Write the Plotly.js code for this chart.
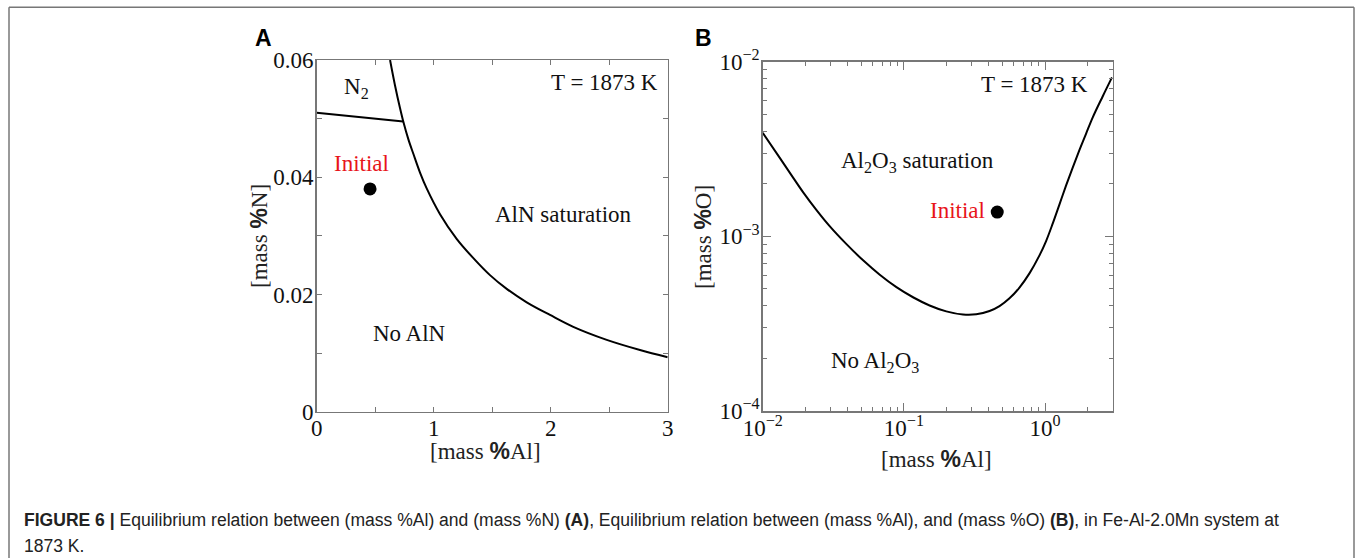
<!DOCTYPE html>
<html>
<head>
<meta charset="utf-8">
<script src="https://cdn.plot.ly/plotly-3.0.1.min.js"></script>
<style>html,body{margin:0;padding:0;background:#fff;}#chart{width:1357px;height:558px;}</style>
</head>
<body>
<div id="chart"></div>
<script>
// Panel A: AlN saturation boundary
const alnAl = [0.627, 0.669, 0.712, 0.74, 0.783, 0.826, 0.883, 0.94, 1.054, 1.196, 1.339, 1.481, 1.624, 1.795, 1.994, 2.193, 2.479, 2.763, 3.0];
const alnN  = [0.0600, 0.0557, 0.0518, 0.0495, 0.0465, 0.0440, 0.0408, 0.0381, 0.0337, 0.0295, 0.0262, 0.0233, 0.02095, 0.01866, 0.0165, 0.01448, 0.01226, 0.01053, 0.0093];
// Panel A: N2 boundary
const n2Al = [0, 0.74];
const n2N  = [0.0510, 0.0495];
// Panel A initial point
const initA = {al: [0.456], n: [0.038]};
// Panel B: Al2O3 saturation boundary
const oxAl = [0.01, 0.01325, 0.01646, 0.01936, 0.02406, 0.0299, 0.03921, 0.0514, 0.06745, 0.0885, 0.116, 0.152, 0.1995, 0.262, 0.3253, 0.404, 0.4753, 0.5595, 0.658, 0.7745, 0.912, 1.016, 1.133, 1.262, 1.406, 1.568, 1.746, 1.948, 2.17, 2.555, 2.975];
const oxO  = [0.00392, 0.002805, 0.002163, 0.001786, 0.001413, 0.00114, 0.000902, 0.000729, 0.000603, 0.000512, 0.000448, 0.000402, 0.000372, 0.000357, 0.000358, 0.000374, 0.000399, 0.000442, 0.000509, 0.000614, 0.000778, 0.00094, 0.001186, 0.00152, 0.00195, 0.002477, 0.003105, 0.003864, 0.004786, 0.006324, 0.00813];
// Panel B initial point
const initB = {al: [0.458], o: [0.001378]};

const ticksA_x = [0, 1, 2, 3];
const ticksA_y = [0, 0.02, 0.04, 0.06];
const ticksB_x = [0.01, 0.1, 1];
const ticksB_xText = ['10<sup>\u22122</sup>', '10<sup>\u22121</sup>', '10<sup>0</sup>'];
const ticksB_y = [0.0001, 0.001, 0.01];
const ticksB_yText = ['10<sup>\u22124</sup>', '10<sup>\u22123</sup>', '10<sup>\u22122</sup>'];

const W = 1357, H = 558;
const px = v => v / W, py = v => 1 - v / H;

const serif = 'Liberation Serif, Times New Roman, serif';
const sans = 'Liberation Sans, Arial, sans-serif';
const frame = '#777';

function minorLog(lo, hi) {
  const out = [];
  for (let e = lo; e < hi; e++) for (let m = 2; m <= 9; m++) out.push(m * Math.pow(10, e));
  return out;
}

const traces = [
  {x: alnAl, y: alnN, xaxis: 'x', yaxis: 'y', mode: 'lines', line: {color: '#000', width: 2, shape: 'spline', smoothing: 1}, hoverinfo: 'skip'},
  {x: n2Al, y: n2N, xaxis: 'x', yaxis: 'y', mode: 'lines', line: {color: '#000', width: 2}, hoverinfo: 'skip'},
  {x: initA.al, y: initA.n, xaxis: 'x', yaxis: 'y', mode: 'markers', marker: {color: '#000', size: 13}, hoverinfo: 'skip'},
  {x: oxAl, y: oxO, xaxis: 'x2', yaxis: 'y2', mode: 'lines', line: {color: '#000', width: 2, shape: 'spline', smoothing: 1}, hoverinfo: 'skip'},
  {x: initB.al, y: initB.o, xaxis: 'x2', yaxis: 'y2', mode: 'markers', marker: {color: '#000', size: 13}, hoverinfo: 'skip'}
];

const tickFont = {family: serif, size: 23, color: '#111'};
const axBase = {showline: true, linecolor: frame, linewidth: 1.5, mirror: 'ticks', ticks: 'inside',
  ticklen: 5, tickcolor: frame, tickwidth: 1, showgrid: false, zeroline: false, tickfont: tickFont,
  fixedrange: true};

const pct = '<span style="font-family:Liberation Sans;font-weight:bold">%</span>';
const tFont = {family: serif, size: 23, color: '#111'};
const titleFont = {family: serif, size: 23, color: '#222'};

const ann = [
  // panel letters
  {text: '<b>A</b>', x: px(263), y: py(38), font: {family: sans, size: 23, color: '#000'}},
  {text: '<b>B</b>', x: px(703), y: py(38), font: {family: sans, size: 23, color: '#000'}},
  // axis titles
  {text: '[mass ' + pct + 'Al]', x: px(485), y: py(451), font: titleFont},
  {text: '[mass ' + pct + 'N]', x: px(259), y: py(236), textangle: -90, font: titleFont},
  {text: '[mass ' + pct + 'Al]', x: px(936), y: py(459), font: titleFont},
  {text: '[mass ' + pct + 'O]', x: px(703), y: py(237), textangle: -90, font: titleFont},
  // panel A texts
  {text: 'N<sub>2</sub>', xref: 'x', yref: 'y', x: 0.336, y: 0.0552, font: tFont},
  {text: 'T = 1873 K', xref: 'x', yref: 'y', x: 2.464, y: 0.0562, font: tFont},
  {text: 'Initial', xref: 'x', yref: 'y', x: 0.385, y: 0.0424, font: {family: serif, size: 23, color: '#e8141a'}},
  {text: 'AlN saturation', xref: 'x', yref: 'y', x: 2.108, y: 0.0337, font: tFont},
  {text: 'No AlN', xref: 'x', yref: 'y', x: 0.797, y: 0.01326, font: tFont},
  // panel B texts
  {text: 'T = 1873 K', xref: 'x2', yref: 'y2', x: Math.log10(0.84), y: Math.log10(0.00745), font: tFont},
  {text: 'Al<sub>2</sub>O<sub>3</sub> saturation', xref: 'x2', yref: 'y2', x: Math.log10(0.124), y: Math.log10(0.00265), font: tFont},
  {text: 'Initial', xref: 'x2', yref: 'y2', x: Math.log10(0.385), y: Math.log10(0.00141), xanchor: 'right', font: {family: serif, size: 23, color: '#e8141a'}},
  {text: 'No Al<sub>2</sub>O<sub>3</sub>', xref: 'x2', yref: 'y2', x: Math.log10(0.062), y: Math.log10(0.00019), font: tFont},
  // caption
  {text: '<b>FIGURE 6 |</b> Equilibrium relation between (mass %Al) and (mass %N) <b>(A)</b>, Equilibrium relation between (mass %Al), and (mass %O) <b>(B)</b>, in Fe-Al-2.0Mn system at',
   x: px(22), y: py(520), xanchor: 'left', font: {family: sans, size: 17.55, color: '#222'}},
  {text: '1873 K.', x: px(22), y: py(546), xanchor: 'left', font: {family: sans, size: 17.55, color: '#222'}}
].map(a => Object.assign({xref: 'paper', yref: 'paper', showarrow: false, xanchor: 'center', yanchor: 'middle'}, a));

const layout = {
  width: W, height: H,
  margin: {l: 0, r: 0, t: 0, b: 0},
  paper_bgcolor: '#fff', plot_bgcolor: '#fff',
  showlegend: false,
  xaxis: Object.assign({}, axBase, {domain: [px(316.7), px(667.7)], range: [0, 3], tickvals: ticksA_x,
    minor: {dtick: 0.5, ticks: 'inside', ticklen: 5, tickcolor: frame, tickwidth: 1}, anchor: 'y', ticklabelstandoff: -5}),
  yaxis: Object.assign({}, axBase, {domain: [py(411.7), py(60)], range: [0, 0.06], tickvals: ticksA_y,
    minor: {dtick: 0.01, ticks: 'inside', ticklen: 5, tickcolor: frame, tickwidth: 1}, anchor: 'x', ticklabelstandoff: -3}),
  xaxis2: Object.assign({}, axBase, {type: 'log', domain: [px(762.7), px(1112.5)], range: [-2, Math.log10(3)],
    tickvals: ticksB_x, ticktext: ticksB_xText, ticklen: 8,
    minor: {tickmode: 'array', tickvals: minorLog(-2, 1), ticks: 'inside', ticklen: 4, tickcolor: frame, tickwidth: 1}, anchor: 'y2', ticklabelstandoff: -4}),
  yaxis2: Object.assign({}, axBase, {type: 'log', domain: [py(411), py(61.7)], range: [-4, -2],
    tickvals: ticksB_y, ticktext: ticksB_yText, ticklen: 8,
    minor: {tickmode: 'array', tickvals: minorLog(-4, -2), ticks: 'inside', ticklen: 4, tickcolor: frame, tickwidth: 1}, anchor: 'x2', ticklabelstandoff: -3}),
  annotations: ann,
  shapes: [
    {type: 'line', xref: 'paper', yref: 'paper', x0: px(9), x1: px(1354), y0: py(7.3), y1: py(7.3), line: {color: frame, width: 1.5}},
    {type: 'line', xref: 'paper', yref: 'paper', x0: px(9), x1: px(9), y0: py(7.3), y1: 0, line: {color: frame, width: 1.5}},
    {type: 'line', xref: 'paper', yref: 'paper', x0: px(1354), x1: px(1354), y0: py(7.3), y1: 0, line: {color: frame, width: 1.5}}
  ]
};

Plotly.newPlot('chart', traces, layout, {staticPlot: true, displayModeBar: false});
</script>
</body>
</html>
